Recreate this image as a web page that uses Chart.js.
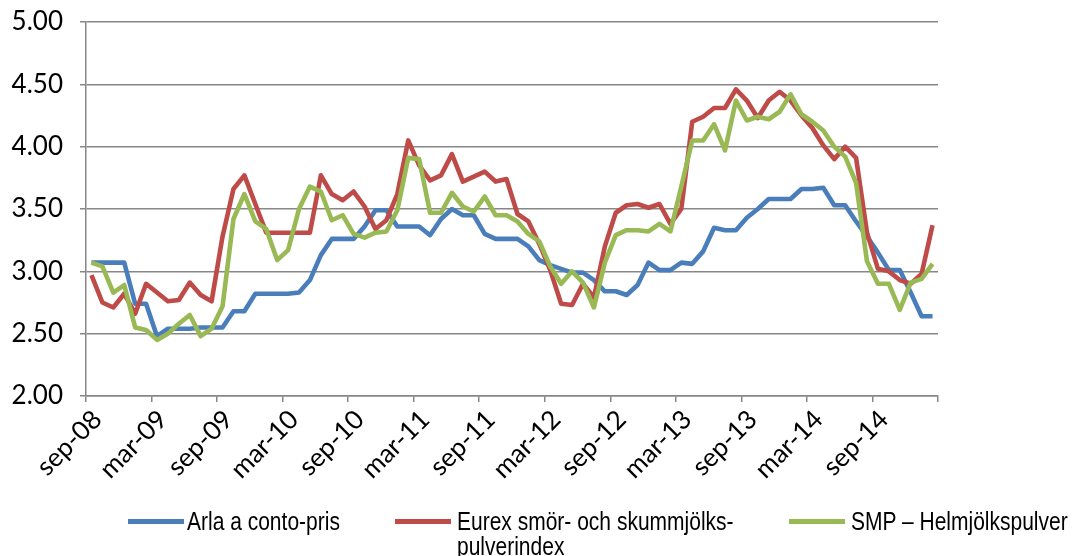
<!DOCTYPE html>
<html>
<head>
<meta charset="utf-8">
<script src="https://cdn.jsdelivr.net/npm/chart.js@4.4.1/dist/chart.umd.min.js"></script>
<style>
  html, body { margin: 0; padding: 0; background: #fff; }
  #wrap { position: relative; width: 1073px; height: 556px; overflow: hidden; }
  canvas { position: absolute; left: 0; top: 0; }
  .lg-line { position: absolute; height: 5px; width: 56px; }
  .lg-text { position: absolute; font-family: "Liberation Sans", Arial, sans-serif; font-size: 25px; line-height: 25px; color: #000; white-space: nowrap; transform: scaleX(0.84); transform-origin: 0 0; }
</style>
</head>
<body>
<div id="wrap">
  <canvas id="c" width="1073" height="556"></canvas>
  <div class="lg-line" style="left:128px; top:519px; background:#4a7ebb;"></div>
  <div class="lg-text" style="left:187px; top:509px;">Arla a conto-pris</div>
  <div class="lg-line" style="left:395px; top:519px; background:#be4b48;"></div>
  <div class="lg-text" style="left:457px; top:509px;">Eurex smör- och skummjölks-<br>pulverindex</div>
  <div class="lg-line" style="left:789px; top:519px; background:#98b954;"></div>
  <div class="lg-text" style="left:851px; top:509px;">SMP – Helmjölkspulver</div>
</div>
<script>
const months = [
  'sep-08','okt-08','nov-08','dec-08','jan-09','feb-09','mar-09','apr-09','maj-09','jun-09','jul-09','aug-09',
  'sep-09','okt-09','nov-09','dec-09','jan-10','feb-10','mar-10','apr-10','maj-10','jun-10','jul-10','aug-10',
  'sep-10','okt-10','nov-10','dec-10','jan-11','feb-11','mar-11','apr-11','maj-11','jun-11','jul-11','aug-11',
  'sep-11','okt-11','nov-11','dec-11','jan-12','feb-12','mar-12','apr-12','maj-12','jun-12','jul-12','aug-12',
  'sep-12','okt-12','nov-12','dec-12','jan-13','feb-13','mar-13','apr-13','maj-13','jun-13','jul-13','aug-13',
  'sep-13','okt-13','nov-13','dec-13','jan-14','feb-14','mar-14','apr-14','maj-14','jun-14','jul-14','aug-14',
  'sep-14','okt-14','nov-14','dec-14','jan-15','feb-15'
];

const arla = [
  3.07,3.07,3.07,3.07,2.74,2.74,2.48,2.54,2.54,2.54,2.55,2.55,
  2.55,2.68,2.68,2.82,2.82,2.82,2.82,2.83,2.93,3.13,3.26,3.26,
  3.26,3.36,3.49,3.49,3.36,3.36,3.36,3.29,3.42,3.50,3.45,3.45,
  3.30,3.26,3.26,3.26,3.20,3.09,3.05,3.02,2.99,2.99,2.93,2.84,
  2.84,2.81,2.89,3.07,3.01,3.01,3.07,3.06,3.16,3.35,3.33,3.33,
  3.43,3.50,3.58,3.58,3.58,3.66,3.66,3.67,3.53,3.53,3.40,3.28,
  3.15,3.01,3.01,2.83,2.64,2.64
];

const eurex = [
  2.97,2.75,2.71,2.82,2.66,2.90,2.83,2.76,2.77,2.91,2.81,2.76,
  3.28,3.66,3.77,3.54,3.31,3.31,3.31,3.31,3.31,3.77,3.62,3.57,
  3.64,3.52,3.34,3.41,3.62,4.05,3.85,3.73,3.77,3.94,3.72,3.76,
  3.80,3.72,3.74,3.46,3.40,3.22,3.01,2.74,2.73,2.90,2.79,3.20,
  3.47,3.53,3.54,3.51,3.54,3.38,3.50,4.20,4.24,4.31,4.31,4.46,
  4.37,4.23,4.37,4.44,4.37,4.25,4.15,4.01,3.90,4.00,3.91,3.31,
  3.02,3.00,2.93,2.90,2.98,3.37
];

const smp = [
  3.07,3.04,2.83,2.89,2.55,2.53,2.45,2.50,2.58,2.65,2.48,2.54,
  2.72,3.42,3.62,3.40,3.34,3.09,3.17,3.50,3.68,3.64,3.41,3.45,
  3.30,3.27,3.31,3.32,3.49,3.91,3.90,3.47,3.47,3.63,3.52,3.48,
  3.60,3.45,3.45,3.40,3.30,3.24,3.04,2.90,3.00,2.91,2.71,3.07,
  3.29,3.33,3.33,3.32,3.38,3.32,3.68,4.05,4.05,4.18,3.97,4.37,
  4.21,4.24,4.22,4.28,4.42,4.26,4.20,4.13,4.00,3.92,3.71,3.08,
  2.90,2.90,2.69,2.91,2.94,3.06
];

const seriesNames = ['Arla a conto-pris', 'Eurex smör- och skummjölks-pulverindex', 'SMP – Helmjölkspulver'];

const GRID = '#878787';
const labelStep = 6;

new Chart(document.getElementById('c'), {
  type: 'line',
  data: {
    labels: months,
    datasets: [
      { label: seriesNames[0], data: arla, borderColor: '#4a7ebb', order: 3 },
      { label: seriesNames[1], data: eurex, borderColor: '#be4b48', order: 2 },
      { label: seriesNames[2], data: smp, borderColor: '#98b954', order: 1 }
    ].map(d => Object.assign(d, { borderWidth: 4.6, pointRadius: 0, pointHoverRadius: 0, tension: 0, fill: false, borderJoinStyle: 'round', borderCapStyle: 'butt' }))
  },
  options: {
    responsive: false,
    animation: false,
    events: [],
    layout: { padding: { top: 22, right: 135, bottom: 0, left: 0 } },
    plugins: { legend: { display: false }, tooltip: { enabled: false } },
    scales: {
      x: {
        type: 'category',
        offset: true,
        afterFit: s => { s.height = 160; s.paddingTop = 0; },
        grid: {
          offset: true,
          drawOnChartArea: false,
          drawTicks: true,
          tickLength: 6,
          lineWidth: 1.5,
          color: ctx => (ctx.index === undefined || ctx.index % labelStep === 0) ? GRID : 'rgba(0,0,0,0)'
        },
        border: { color: GRID, width: 1.5 },
        ticks: {
          autoSkip: false,
          maxRotation: 45,
          minRotation: 45,
          padding: 2,
          labelOffset: 6,
          color: '#000',
          font: { family: 'Lato', size: 26 },
          callback: (v, i) => (i % labelStep === 0 ? months[i] : '')
        }
      },
      y: {
        min: 2,
        max: 5,
        afterFit: s => { s.width = 86; s.paddingTop = 0; s.paddingBottom = 0; },
        grid: { color: GRID, lineWidth: 1.5, tickLength: 6, drawTicks: true },
        border: { color: GRID, width: 1.5 },
        ticks: {
          stepSize: 0.5,
          padding: 17,
          color: '#000',
          font: { family: 'Lato', size: 26 },
          callback: v => Number(v).toFixed(2)
        }
      }
    }
  }
});
</script>
</body>
</html>
